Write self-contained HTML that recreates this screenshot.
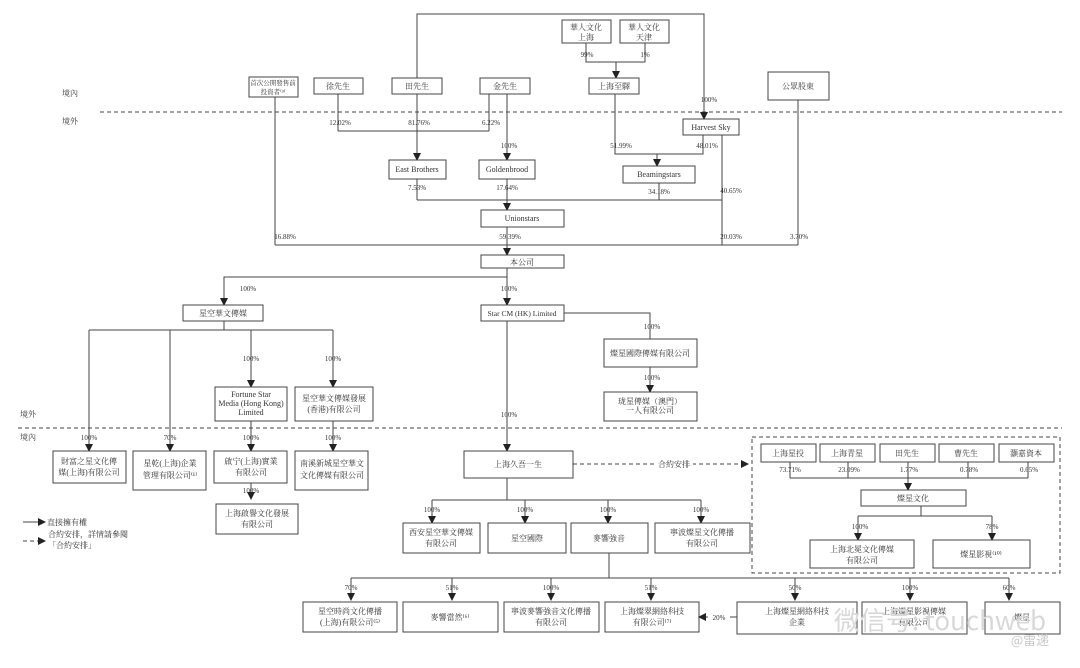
<!DOCTYPE html>
<html><head><meta charset="utf-8"><style>
html,body{margin:0;padding:0;background:#fff}
svg{display:block}
text{font-family:"Liberation Serif","Noto Serif CJK SC","Noto Sans CJK TC",serif;font-size:8px;fill:#333;text-anchor:middle}
.b{fill:#fff;stroke:#444;stroke-width:1}
.l{stroke:#444;stroke-width:1;fill:none}
.d{stroke:#444;stroke-width:1;fill:none;stroke-dasharray:4,3}
.p{font-size:7px}
</style></head><body>
<svg width="1080" height="668" viewBox="0 0 1080 668" xmlns="http://www.w3.org/2000/svg">
<defs><marker id="a" markerWidth="8" markerHeight="8" refX="7" refY="4" orient="auto" markerUnits="userSpaceOnUse"><path d="M0,0 L8,4 L0,8 z" fill="#222"/></marker></defs>

<!-- dashed borders -->
<line class="d" x1="100" y1="112" x2="1062" y2="112"/>
<line class="d" x1="18" y1="428" x2="1062" y2="428"/>
<text x="62" y="96" text-anchor="start" style="text-anchor:start">境內</text>
<text x="62" y="124" style="text-anchor:start">境外</text>
<text x="20" y="417" style="text-anchor:start">境外</text>
<text x="20" y="440" style="text-anchor:start">境內</text>

<!-- top -->
<polyline class="l" points="417,78 417,14 704,14 704,119" marker-end="url(#a)"/>
<rect class="b" x="562" y="20" width="49" height="23"/><text x="586" y="30">華人文化</text><text x="586" y="40">上海</text>
<rect class="b" x="620" y="20" width="49" height="23"/><text x="644" y="30">華人文化</text><text x="644" y="40">天津</text>
<text class="p" x="587" y="57">99%</text><text class="p" x="645" y="57">1%</text>
<polyline class="l" points="586,43 586,62 645,62 645,43"/>
<line class="l" x1="616" y1="62" x2="616" y2="78" marker-end="url(#a)"/>
<rect class="b" x="589" y="78" width="50" height="16"/><text x="614" y="89">上海至驛</text>
<rect class="b" x="249" y="77" width="49" height="20"/><text x="273" y="85" style="font-size:6.5px">首次公開發售前</text><text x="273" y="94" style="font-size:6.5px">投資者⁽³⁾</text>
<rect class="b" x="314" y="78" width="49" height="16"/><text x="338" y="89">徐先生</text>
<rect class="b" x="392" y="78" width="50" height="16"/><text x="417" y="89">田先生</text>
<rect class="b" x="480" y="78" width="50" height="16"/><text x="505" y="89">金先生</text>
<rect class="b" x="768" y="72" width="61" height="28"/><text x="798" y="89">公眾股東</text>
<text class="p" x="709" y="102">100%</text>

<line class="l" x1="338" y1="94" x2="338" y2="131"/>
<line class="l" x1="489" y1="94" x2="489" y2="131"/>
<line class="l" x1="338" y1="131" x2="489" y2="131"/>
<line class="l" x1="417" y1="94" x2="417" y2="160" marker-end="url(#a)"/>
<text class="p" x="340" y="125">12.02%</text><text class="p" x="419" y="125">81.76%</text><text class="p" x="491" y="125">6.22%</text>
<line class="l" x1="507" y1="94" x2="507" y2="160" marker-end="url(#a)"/>
<text class="p" x="509" y="148">100%</text>
<rect class="b" x="389" y="160" width="57" height="19"/><text x="417" y="172">East Brothers</text>
<rect class="b" x="479" y="160" width="56" height="19"/><text x="507" y="172">Goldenbrood</text>

<rect class="b" x="683" y="119" width="56" height="16"/><text x="711" y="130">Harvest Sky</text>
<polyline class="l" points="615,94 615,154 703,154 703,135"/>
<text class="p" x="621" y="148">51.99%</text><text class="p" x="707" y="148">48.01%</text>
<line class="l" x1="657" y1="154" x2="657" y2="166" marker-end="url(#a)"/>
<rect class="b" x="623" y="166" width="72" height="17"/><text x="659" y="177">Beamingstars</text>
<line class="l" x1="722" y1="135" x2="722" y2="245"/>
<text class="p" x="731" y="193">40.65%</text><text class="p" x="731" y="239">20.03%</text>
<line class="l" x1="798" y1="100" x2="798" y2="245"/>
<text class="p" x="799" y="239">3.70%</text>

<text class="p" x="417" y="190">7.53%</text><text class="p" x="507" y="190">17.64%</text><text class="p" x="659" y="194">34.18%</text>
<line class="l" x1="417" y1="179" x2="417" y2="200"/><line class="l" x1="659" y1="183" x2="659" y2="200"/>
<line class="l" x1="417" y1="200" x2="722" y2="200"/>
<line class="l" x1="507" y1="179" x2="507" y2="210" marker-end="url(#a)"/>
<rect class="b" x="481" y="210" width="83" height="17"/><text x="522" y="221">Unionstars</text>

<line class="l" x1="275" y1="97" x2="275" y2="245"/>
<text class="p" x="285" y="239">16.88%</text><text class="p" x="510" y="239">59.39%</text>
<line class="l" x1="275" y1="245" x2="798" y2="245"/>
<line class="l" x1="507" y1="227" x2="507" y2="255" marker-end="url(#a)"/>
<rect class="b" x="481" y="255" width="83" height="13"/><text x="522" y="265">本公司</text>

<!-- level 2 -->
<line class="l" x1="507" y1="268" x2="507" y2="305" marker-end="url(#a)"/>
<polyline class="l" points="507,277 224,277 224,305" marker-end="url(#a)"/>
<text class="p" x="248" y="291">100%</text><text class="p" x="509" y="291">100%</text>
<rect class="b" x="183" y="305" width="80" height="16"/><text x="223" y="316">星空華文傳媒</text>
<rect class="b" x="481" y="305" width="83" height="16"/><text x="522" y="316" style="font-size:7.5px">Star CM (HK) Limited</text>

<line class="l" x1="224" y1="321" x2="224" y2="330"/>
<line class="l" x1="89" y1="330" x2="333" y2="330"/>
<line class="l" x1="89" y1="330" x2="89" y2="451" marker-end="url(#a)"/>
<line class="l" x1="170" y1="330" x2="170" y2="451" marker-end="url(#a)"/>
<line class="l" x1="251" y1="330" x2="251" y2="387" marker-end="url(#a)"/>
<line class="l" x1="333" y1="330" x2="333" y2="387" marker-end="url(#a)"/>
<text class="p" x="251" y="361">100%</text><text class="p" x="333" y="361">100%</text>
<rect class="b" x="215" y="387" width="72" height="34"/><text x="251" y="397">Fortune Star</text><text x="251" y="406">Media (Hong Kong)</text><text x="251" y="415">Limited</text>
<rect class="b" x="295" y="387" width="78" height="34"/><text x="334" y="401">星空華文傳媒發展</text><text x="334" y="412">(香港)有限公司</text>
<line class="l" x1="251" y1="421" x2="251" y2="451" marker-end="url(#a)"/>
<line class="l" x1="333" y1="421" x2="333" y2="451" marker-end="url(#a)"/>
<text class="p" x="89" y="440">100%</text><text class="p" x="170" y="440">70%</text><text class="p" x="251" y="440">100%</text><text class="p" x="333" y="440">100%</text>
<rect class="b" x="53" y="451" width="73" height="32"/><text x="89" y="464">財富之星文化傳</text><text x="89" y="475">媒(上海)有限公司</text>
<rect class="b" x="133" y="451" width="73" height="39"/><text x="170" y="466">星乾(上海)企業</text><text x="170" y="478">管理有限公司⁽¹⁾</text>
<rect class="b" x="214" y="451" width="73" height="32"/><text x="251" y="464">啟宁(上海)實業</text><text x="251" y="475">有限公司</text>
<rect class="b" x="295" y="451" width="73" height="39"/><text x="332" y="466">南溪新城星空華文</text><text x="332" y="478">文化傳媒有限公司</text>
<line class="l" x1="251" y1="483" x2="251" y2="499" marker-end="url(#a)"/>
<text class="p" x="251" y="493">100%</text>
<rect class="b" x="216" y="504" width="82" height="30"/><text x="257" y="516">上海啟譽文化發展</text><text x="257" y="527">有限公司</text>

<!-- Star CM -->
<polyline class="l" points="564,313 650,313 650,339"/>
<text class="p" x="652" y="329">100%</text>
<rect class="b" x="604" y="339" width="93" height="28"/><text x="650" y="356">燦星國際傳媒有限公司</text>
<line class="l" x1="650" y1="367" x2="650" y2="392" marker-end="url(#a)"/>
<text class="p" x="652" y="380">100%</text>
<rect class="b" x="604" y="392" width="93" height="29"/><text x="650" y="404">珑星傳媒（澳門）</text><text x="650" y="413">一人有限公司</text>
<line class="l" x1="507" y1="321" x2="507" y2="451" marker-end="url(#a)"/>
<text class="p" x="509" y="417">100%</text>
<rect class="b" x="464" y="451" width="109" height="27"/><text x="518" y="467">上海久吾一生</text>
<line class="d" x1="573" y1="464" x2="748" y2="464" marker-end="url(#a)"/>
<rect x="655" y="457" width="38" height="12" fill="#fff"/>
<text x="674" y="467">合約安排</text>

<!-- right dashed group -->
<rect class="d" x="752" y="437" width="308" height="136"/>
<rect class="b" x="761" y="444" width="55" height="18"/><text x="788" y="456">上海星投</text>
<rect class="b" x="820" y="444" width="55" height="18"/><text x="847" y="456">上海青星</text>
<rect class="b" x="880" y="444" width="55" height="18"/><text x="907" y="456">田先生</text>
<rect class="b" x="939" y="444" width="55" height="18"/><text x="966" y="456">曹先生</text>
<rect class="b" x="999" y="444" width="55" height="18"/><text x="1026" y="456">灝嘉資本</text>
<text class="p" x="790" y="472">73.71%</text><text class="p" x="849" y="472">23.09%</text><text class="p" x="909" y="472">1.77%</text><text class="p" x="969" y="472">0.78%</text><text class="p" x="1029" y="472">0.65%</text>
<line class="l" x1="790" y1="478" x2="1028" y2="478"/>
<line class="l" x1="790" y1="462" x2="790" y2="478"/><line class="l" x1="848" y1="462" x2="848" y2="478"/><line class="l" x1="968" y1="462" x2="968" y2="478"/><line class="l" x1="1028" y1="462" x2="1028" y2="478"/>
<line class="l" x1="908" y1="462" x2="908" y2="490" marker-end="url(#a)"/>
<rect class="b" x="861" y="490" width="105" height="16"/><text x="913" y="501">燦星文化</text>
<line class="l" x1="921" y1="506" x2="921" y2="516"/>
<line class="l" x1="858" y1="516" x2="992" y2="516"/>
<line class="l" x1="858" y1="516" x2="858" y2="540" marker-end="url(#a)"/>
<line class="l" x1="992" y1="516" x2="992" y2="540" marker-end="url(#a)"/>
<text class="p" x="860" y="529">100%</text><text class="p" x="992" y="529">78%</text>
<rect class="b" x="810" y="540" width="104" height="28"/><text x="862" y="552">上海北冕文化傳媒</text><text x="862" y="563">有限公司</text>
<rect class="b" x="933" y="540" width="97" height="28"/><text x="981" y="557">燦星影視⁽¹⁰⁾</text>

<!-- middle row -->
<line class="l" x1="507" y1="478" x2="507" y2="500"/>
<line class="l" x1="432" y1="500" x2="701" y2="500"/>
<line class="l" x1="432" y1="500" x2="432" y2="523" marker-end="url(#a)"/>
<line class="l" x1="525" y1="500" x2="525" y2="523" marker-end="url(#a)"/>
<line class="l" x1="608" y1="500" x2="608" y2="523" marker-end="url(#a)"/>
<line class="l" x1="701" y1="500" x2="701" y2="523" marker-end="url(#a)"/>
<text class="p" x="432" y="512">100%</text><text class="p" x="525" y="512">100%</text><text class="p" x="608" y="512">100%</text><text class="p" x="701" y="512">100%</text>
<rect class="b" x="403" y="523" width="77" height="30"/><text x="441" y="535">西安星空華文傳媒</text><text x="441" y="546">有限公司</text>
<rect class="b" x="488" y="523" width="78" height="30"/><text x="527" y="541">星空國際</text>
<rect class="b" x="571" y="523" width="77" height="30"/><text x="609" y="541">麥響強音</text>
<rect class="b" x="655" y="523" width="95" height="30"/><text x="702" y="535">寧波燦星文化傳播</text><text x="702" y="546">有限公司</text>

<!-- bottom row -->
<line class="l" x1="609" y1="553" x2="609" y="578" y2="578"/>
<line class="l" x1="351" y1="578" x2="1009" y2="578"/>
<g>
<line class="l" x1="351" y1="578" x2="351" y2="600" marker-end="url(#a)"/>
<line class="l" x1="452" y1="578" x2="452" y2="600" marker-end="url(#a)"/>
<line class="l" x1="551" y1="578" x2="551" y2="600" marker-end="url(#a)"/>
<line class="l" x1="651" y1="578" x2="651" y2="600" marker-end="url(#a)"/>
<line class="l" x1="795" y1="578" x2="795" y2="600" marker-end="url(#a)"/>
<line class="l" x1="910" y1="578" x2="910" y2="600" marker-end="url(#a)"/>
<line class="l" x1="1009" y1="578" x2="1009" y2="600" marker-end="url(#a)"/>
</g>
<text class="p" x="351" y="590">70%</text><text class="p" x="452" y="590">51%</text><text class="p" x="551" y="590">100%</text><text class="p" x="651" y="590">51%</text><text class="p" x="795" y="590">50%</text><text class="p" x="910" y="590">100%</text><text class="p" x="1009" y="590">60%</text>
<rect class="b" x="303" y="602" width="94" height="30"/><text x="350" y="614">星空時尚文化傳播</text><text x="350" y="625">(上海)有限公司⁽⁵⁾</text>
<rect class="b" x="403" y="602" width="95" height="30"/><text x="450" y="620">麥響當然⁽⁶⁾</text>
<rect class="b" x="504" y="602" width="95" height="30"/><text x="551" y="614">寧波麥響強音文化傳播</text><text x="551" y="625">有限公司</text>
<rect class="b" x="605" y="602" width="94" height="30"/><text x="652" y="614">上海燦翠網絡科技</text><text x="652" y="625">有限公司⁽⁷⁾</text>
<line class="l" x1="737" y1="617" x2="699" y2="617" marker-end="url(#a)"/>
<rect x="708" y="611" width="22" height="11" fill="#fff"/><text class="p" x="719" y="620">20%</text>
<rect class="b" x="737" y="602" width="120" height="32"/><text x="797" y="614">上海燦星網絡科技</text><text x="797" y="625">企業</text>
<rect class="b" x="862" y="602" width="105" height="32"/><text x="914" y="614">上海燦星影視傳媒</text><text x="914" y="625">有限公司</text>
<rect class="b" x="985" y="602" width="75" height="32"/><text x="1022" y="620">燦星</text>

<!-- watermark -->
<text x="940" y="630" style="font-family:'Noto Sans CJK SC',sans-serif;font-size:26px;fill:#d8d8d8;">微信号: touchweb</text>
<text x="1030" y="645" style="font-family:'Noto Sans CJK SC',sans-serif;font-size:13px;fill:#c8c8c8;">@雷递</text>

<!-- legend -->
<line class="l" x1="23" y1="522" x2="45" y2="522" marker-end="url(#a)"/>
<text x="47" y="525" style="text-anchor:start">直接擁有權</text>
<line class="d" x1="23" y1="541" x2="45" y2="541" marker-end="url(#a)"/>
<text x="48" y="537" style="text-anchor:start">合約安排，詳情請參閱</text>
<text x="48" y="548" style="text-anchor:start">「合約安排」</text>
</svg>
</body></html>
